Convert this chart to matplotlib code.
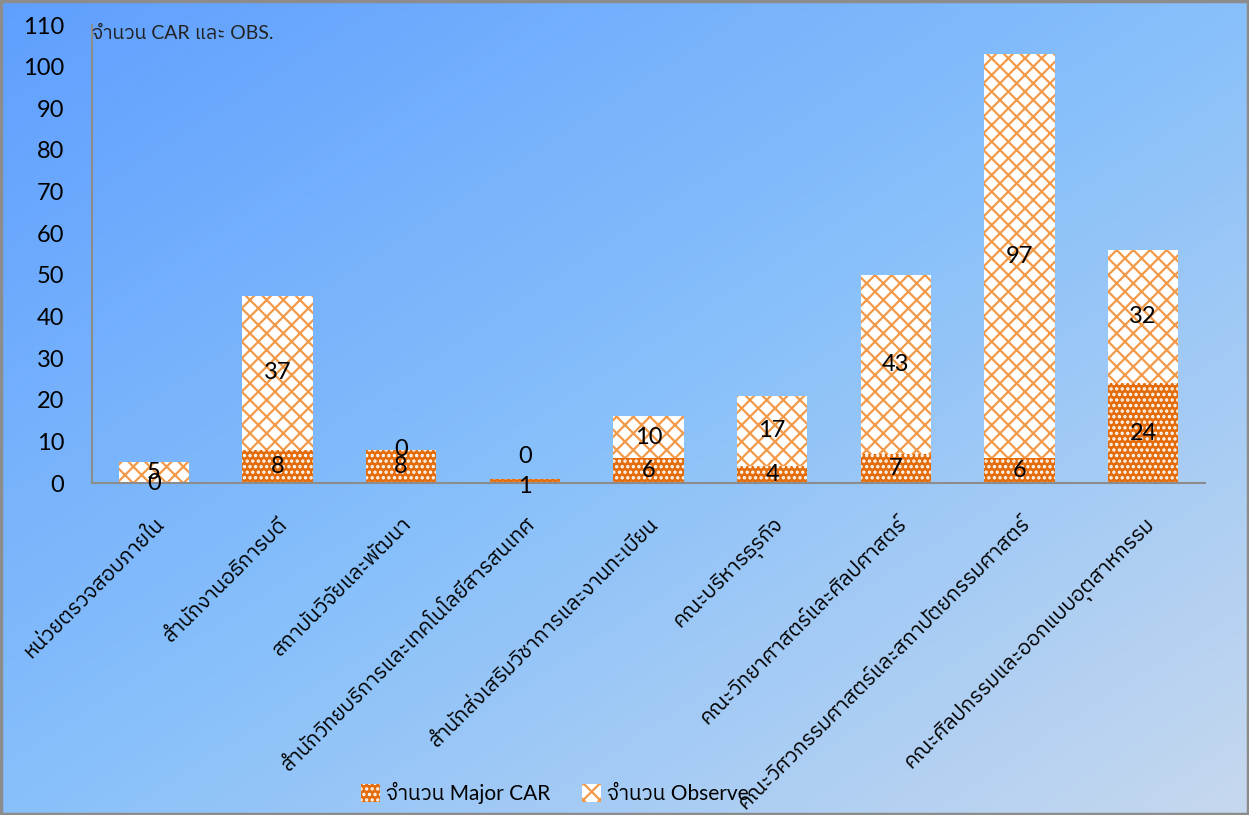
import matplotlib
matplotlib.use('Agg')
import matplotlib.pyplot as plt
import numpy as np
from matplotlib import font_manager
from matplotlib.ft2font import FT2Font
from matplotlib.colors import LinearSegmentedColormap

# data
units = ['หน่วยตรวจสอบภายใน', 'สำนักงานอธิการบดี', 'สถาบันวิจัยและพัฒนา',
         'สำนักวิทยบริการและเทคโนโลยีสารสนเทศ', 'สำนักส่งเสริมวิชาการและงานทะเบียน',
         'คณะบริหารธุรกิจ', 'คณะวิทยาศาสตร์และศิลปศาสตร์',
         'คณะวิศวกรรมศาสตร์และสถาปัตยกรรมศาสตร์', 'คณะศิลปกรรมและออกแบบอุตสาหกรรม']
major_car = [0, 8, 8, 1, 6, 4, 7, 6, 24]
observe = [5, 37, 0, 0, 10, 17, 43, 97, 32]
yticks = list(range(0, 111, 10))


def find_thai_font():
    # look for any installed font that has Thai glyphs
    found = []
    for f in font_manager.fontManager.ttflist:
        try:
            if 0x0E01 in FT2Font(f.fname).get_charmap():
                found.append(f)
        except Exception:
            pass
    if not found:
        return None
    found.sort(key=lambda f: (f.weight not in (400, 'normal', 'regular'), 'Thai' not in f.name))
    return found[0].name


thai = find_thai_font()
fams = ['Lato'] + ([thai] if thai else []) + ['DejaVu Sans']
plt.rcParams['font.family'] = fams
plt.rcParams['hatch.linewidth'] = 1.6

fig = plt.figure(figsize=(12.49, 8.15), dpi=100)

# gradient background over the whole figure
bg = fig.add_axes([0, 0, 1, 1], zorder=-10)
cmap = LinearSegmentedColormap.from_list('bg', ['#5f9fff', '#88c0fa', '#c6d8ee'])
xx, yy = np.meshgrid(np.linspace(0, 1, 300), np.linspace(0, 1, 200))
bg.imshow((xx + yy) / 2, cmap=cmap, aspect='auto', extent=[0, 1, 0, 1])
bg.set_axis_off()
fig.patches.append(plt.Rectangle((0.001, 0.001), 0.998, 0.998, transform=fig.transFigure,
                                 fill=False, edgecolor='#8c8c8c', lw=2.5))

ax = fig.add_axes([92 / 1249, 1 - 483 / 815, (1205 - 92) / 1249, (483 - 25) / 815])
ax.patch.set_alpha(0)

x = np.arange(len(units))
b1 = ax.bar(x, major_car, width=0.57, color='#e46c0a', edgecolor='white', hatch='...',
            linewidth=0, label='จำนวน Major CAR')
b2 = ax.bar(x, observe, width=0.57, bottom=major_car, color='white', edgecolor='#f29a4a',
            hatch='xx', linewidth=0, label='จำนวน Observe')
t1 = ax.bar_label(b1, label_type='center', fontsize=17)
t2 = ax.bar_label(b2, label_type='center', fontsize=17)
# push the labels of a very thin bar apart, as in the reference
for i in range(len(units)):
    if major_car[i] + observe[i] < 3:
        t2[i].xyann = (0, 16)
        t1[i].xyann = (0, -4)

ax.set_xlim(-0.5, len(units) - 0.5)
ax.set_ylim(0, 110)
ax.set_yticks(yticks)
ax.tick_params(axis='y', length=0, pad=20, labelsize=17)
ax.tick_params(axis='x', length=0, pad=22)
ax.set_xticks(x)
ax.set_xticklabels(units, rotation=45, ha='right', rotation_mode='anchor', fontsize=15)
for s in ['top', 'right']:
    ax.spines[s].set_visible(False)
for s in ['left', 'bottom']:
    ax.spines[s].set_color('#8c8c8c')
    ax.spines[s].set_linewidth(1.5)

ax.text(0.0, 1.0, 'จำนวน CAR และ OBS.', transform=ax.transAxes, ha='left', va='top',
        fontsize=14, color='#222222')

fig.legend(handles=[b1, b2], loc='center', bbox_to_anchor=(555 / 1249, 1 - 793 / 815),
           ncol=2, frameon=False, fontsize=15, handlelength=0.9, handleheight=0.9,
           handletextpad=0.3, columnspacing=1.5)

fig.savefig('out.png', dpi=100)
